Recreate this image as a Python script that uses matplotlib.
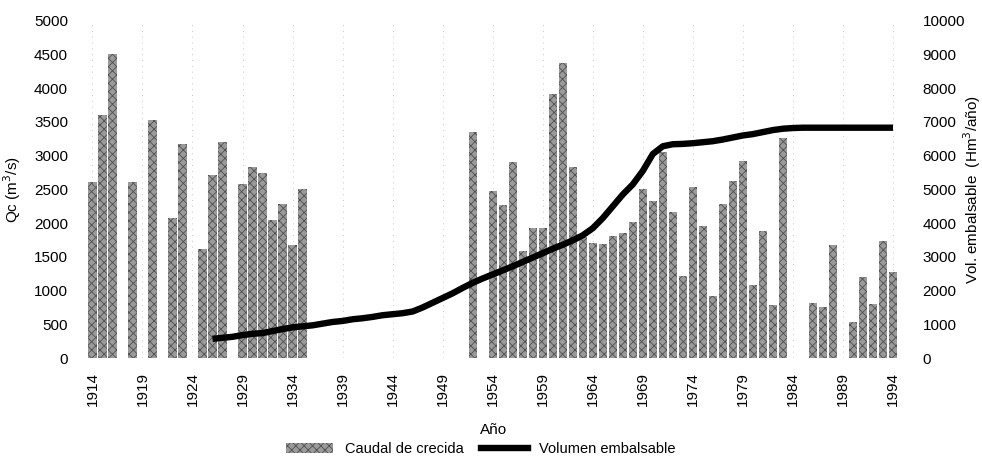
import numpy as np
import matplotlib
matplotlib.use("Agg")
import matplotlib.pyplot as plt
from matplotlib.patches import Patch
from matplotlib.lines import Line2D

plt.rcParams['font.family'] = ['Liberation Sans', 'DejaVu Sans']
plt.rcParams['hatch.linewidth'] = 0.6

# caudal de crecida (m3/s), years with data only
bar_years = [1914, 1915, 1916, 1918, 1920, 1922, 1923, 1925, 1926, 1927,
             1929, 1930, 1931, 1932, 1933, 1934, 1935,
             1952, 1954, 1955, 1956, 1957, 1958, 1959, 1960, 1961, 1962,
             1963, 1964, 1965, 1966, 1967, 1968, 1969, 1970, 1971, 1972,
             1973, 1974, 1975, 1976, 1977, 1978, 1979, 1980, 1981, 1982,
             1983, 1986, 1987, 1988, 1990, 1991, 1992, 1993, 1994]
caudal = [2610, 3600, 4510, 2610, 3530, 2080, 3180, 1620, 2720, 3210,
          2580, 2830, 2750, 2040, 2280, 1670, 2510,
          3350, 2470, 2270, 2910, 1590, 1930, 1930, 3920, 4380, 2830,
          1800, 1700, 1690, 1810, 1860, 2020, 2500, 2330, 3060, 2160,
          1210, 2530, 1960, 920, 2290, 2620, 2920, 1080, 1880, 780,
          3260, 810, 750, 1680, 540, 1200, 800, 1740, 1270]

# volumen embalsable (Hm3/año)
vol_years = list(range(1926, 1995))
volumen = [570, 600, 630, 680, 720, 740, 800, 860, 910, 940,
           970, 1020, 1070, 1100, 1150, 1180, 1220, 1270, 1300, 1330,
           1380, 1500, 1640, 1780, 1920, 2080, 2230, 2360, 2480, 2600,
           2720, 2850, 2980, 3110, 3240, 3360, 3490, 3640, 3850, 4150,
           4500, 4850, 5150, 5550, 6050, 6280, 6340, 6350, 6370, 6400,
           6430, 6480, 6540, 6600, 6640, 6700, 6760, 6800, 6820, 6830,
           6830, 6830, 6830, 6830, 6830, 6830, 6830, 6830, 6830]

xticks = list(range(1914, 1995, 5))

fig = plt.figure(figsize=(9.82, 4.62), dpi=100)
ax = fig.add_axes([0.089, 0.225, 0.8265, 0.73])
ax2 = ax.twinx()

ax.bar(bar_years, caudal, width=0.82, color='#9a9a9a', edgecolor='#505050',
       hatch='xxxx', linewidth=0, zorder=2)
ax2.plot(vol_years, volumen, color='black', lw=4.6, solid_capstyle='butt', zorder=3)

ax.set_xlim(1913.5, 1994.6)
ax.set_ylim(0, 5000)
ax2.set_ylim(0, 10000)
ax.set_yticks(range(0, 5001, 500))
ax2.set_yticks(range(0, 10001, 1000))
ax.set_xticks(xticks)
ax.set_xticklabels([str(y) for y in xticks], rotation=90)

for a in (ax, ax2):
    for s in a.spines.values():
        s.set_visible(False)
    a.tick_params(length=0, labelsize=11)
ax.tick_params(axis='y', pad=14)
ax.tick_params(axis='x', pad=10)
ax2.tick_params(axis='y', pad=17)

for x in xticks:
    ax.axvline(x, color='#c8c8c8', lw=0.7, ls=(0, (1, 5)), zorder=0)

ax.set_ylabel('Qc (m$^3$/s)', fontsize=11, labelpad=8)
ax2.set_ylabel('Vol. embalsable  (Hm$^3$/año)', fontsize=11)
ax2.yaxis.set_label_coords(1.077, 0.5)
ax.set_xlabel('Año', fontsize=11, labelpad=12)

handles = [Patch(facecolor='#9a9a9a', edgecolor='#505050', hatch='xxxx', linewidth=0),
           Line2D([0], [0], color='black', lw=4.6)]
fig.legend(handles, ['Caudal de crecida', 'Volumen embalsable'], loc='center',
           bbox_to_anchor=(0.49, 0.028), ncol=2, frameon=False, fontsize=10.5,
           handlelength=3.2, columnspacing=1.2)

fig.savefig('out.png', dpi=100)
